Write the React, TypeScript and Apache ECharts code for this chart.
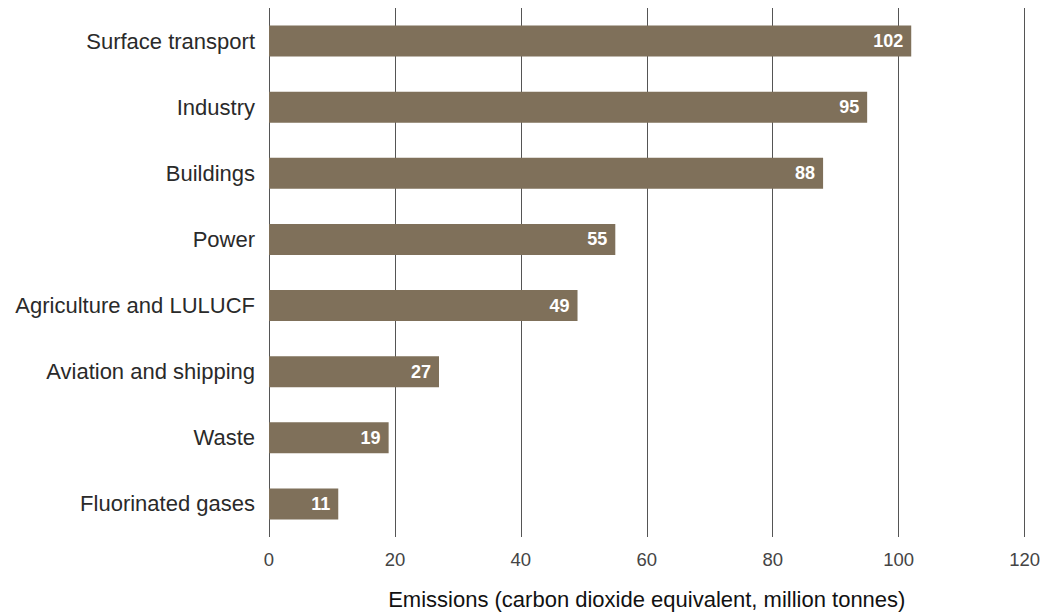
import React, { useEffect, useRef } from "react";
import * as echarts from "echarts";

const categories = [
  "Surface transport",
  "Industry",
  "Buildings",
  "Power",
  "Agriculture and LULUCF",
  "Aviation and shipping",
  "Waste",
  "Fluorinated gases",
];
const values = [102, 95, 88, 55, 49, 27, 19, 11];
const xTicks = [0, 20, 40, 60, 80, 100, 120];
const axisTitle = "Emissions (carbon dioxide equivalent, million tonnes)";

export default function App() {
  const ref = useRef<HTMLDivElement>(null);
  useEffect(() => {
    if (!ref.current) return;
    const chart = echarts.init(ref.current, undefined, { renderer: "svg" });
    const font = "'Liberation Sans', Arial, sans-serif";
    chart.setOption({
      animation: false,
      grid: { left: 269, right: 18, top: 8, bottom: 77, containLabel: false },
      xAxis: {
        type: "value",
        min: xTicks[0],
        max: xTicks[xTicks.length - 1],
        interval: 20,
        axisLine: { show: false },
        axisTick: { show: false },
        splitLine: { show: true, lineStyle: { color: "#555", width: 1 } },
        axisLabel: { color: "#444", fontSize: 18.5, fontFamily: font, margin: 13 },
        name: axisTitle,
        nameLocation: "middle",
        nameGap: 51,
        nameTextStyle: { color: "#111", fontSize: 22, fontFamily: font },
      },
      yAxis: {
        type: "category",
        data: categories,
        inverse: true,
        axisLine: { show: false },
        axisTick: { show: false },
        axisLabel: { color: "#2a2a2a", fontSize: 22, fontFamily: font, margin: 14 },
      },
      series: [
        {
          type: "bar",
          data: values,
          barWidth: 31,
          itemStyle: { color: "#7f705a" },
          label: {
            show: true,
            position: "insideRight",
            distance: 8,
            color: "#fff",
            fontSize: 18,
            fontWeight: "bold",
            fontFamily: font,
          },
        },
      ],
    });
    return () => chart.dispose();
  }, []);
  return <div ref={ref} style={{ width: 1043, height: 615, position: "absolute", left: 0, top: 0 }} />;
}
